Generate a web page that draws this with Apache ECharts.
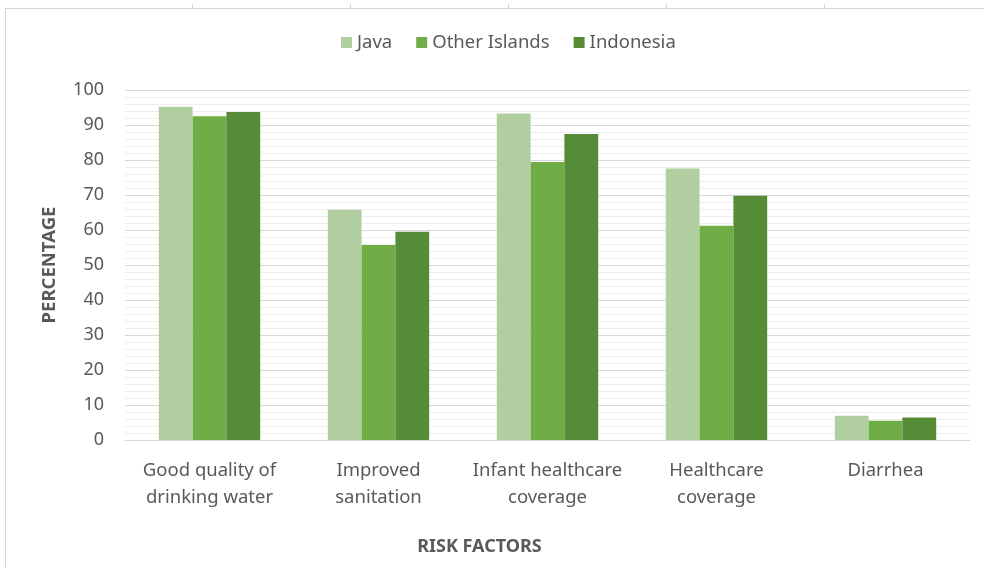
<!DOCTYPE html>
<html>
<head>
<meta charset="utf-8">
<script src="https://cdn.jsdelivr.net/npm/echarts@6/dist/echarts.min.js"></script>
<style>
  html, body { margin: 0; padding: 0; background: #ffffff; }
  #chart { width: 984px; height: 568px; }
</style>
</head>
<body>
<div id="chart"></div>
<script>
// Risk factor categories and survey percentages by region
const categories = [
  'Good quality of\ndrinking water',
  'Improved\nsanitation',
  'Infant healthcare\ncoverage',
  'Healthcare\ncoverage',
  'Diarrhea'
];
const seriesNames = ['Java', 'Other Islands', 'Indonesia'];
const java = [95.2, 65.8, 93.3, 77.6, 6.9];
const otherIslands = [92.5, 55.7, 79.4, 61.2, 5.5];
const indonesia = [93.7, 59.5, 87.4, 69.8, 6.4];
const yTicks = [0, 10, 20, 30, 40, 50, 60, 70, 80, 90, 100];

const colors = ['#b1cea1', '#70ad47', '#568b37'];
const textColor = '#595959';
const font = 'Noto Sans';

const chart = echarts.init(document.getElementById('chart'), null, { renderer: 'canvas' });

const seriesData = [java, otherIslands, indonesia];

// Frame lines of the sheet around the chart
const frameColor = '#d4d4d4';
const frameTicks = [192, 350, 508, 666, 824];
const graphics = [
  { type: 'line', shape: { x1: 5, y1: 8.5, x2: 984, y2: 8.5 }, style: { stroke: frameColor, lineWidth: 1 } },
  { type: 'line', shape: { x1: 5.5, y1: 8, x2: 5.5, y2: 568 }, style: { stroke: frameColor, lineWidth: 1 } }
];
frameTicks.forEach(function (x) {
  graphics.push({ type: 'line', shape: { x1: x + 0.5, y1: 4, x2: x + 0.5, y2: 8 }, style: { stroke: frameColor, lineWidth: 1 } });
});

chart.setOption({
  animation: false,
  backgroundColor: '#ffffff',
  color: colors,
  textStyle: { fontFamily: font },
  graphic: graphics,
  legend: {
    top: 28,
    left: 336,
    itemWidth: 11,
    itemHeight: 11,
    itemGap: 24,
    icon: 'rect',
    textStyle: { fontFamily: font, fontSize: 18.5, color: textColor },
    data: seriesNames
  },
  grid: { left: 125, right: 14, top: 90, bottom: 128 },
  xAxis: {
    type: 'category',
    data: categories,
    name: 'RISK FACTORS',
    nameLocation: 'middle',
    nameGap: 98,
    nameTextStyle: { fontFamily: font, fontSize: 18, fontWeight: 'bold', color: textColor, padding: [0, 136, 0, 0] },
    axisLine: { show: true, lineStyle: { color: '#d9d9d9', width: 1 } },
    axisTick: { show: false },
    axisLabel: { fontFamily: font, fontSize: 18.5, color: textColor, margin: 17, lineHeight: 27, interval: 0 }
  },
  yAxis: {
    type: 'value',
    min: yTicks[0],
    max: yTicks[yTicks.length - 1],
    interval: 10,
    name: 'PERCENTAGE',
    nameLocation: 'middle',
    nameGap: 66,
    nameRotate: 90,
    nameTextStyle: { fontFamily: font, fontSize: 18.5, fontWeight: 'bold', color: textColor },
    axisLine: { show: false },
    axisTick: { show: false },
    axisLabel: { fontFamily: font, fontSize: 18, color: textColor, margin: 21 },
    splitLine: { show: true, lineStyle: { color: '#d9d9d9', width: 1 } },
    minorTick: { show: false, splitNumber: 5 },
    minorSplitLine: { show: true, lineStyle: { color: '#eeeeee', width: 1 } }
  },
  series: seriesNames.map(function (name, i) {
    return {
      name: name,
      type: 'bar',
      data: seriesData[i],
      barGap: '0%',
      barCategoryGap: '40%',
      itemStyle: { color: colors[i] }
    };
  })
});
</script>
</body>
</html>
